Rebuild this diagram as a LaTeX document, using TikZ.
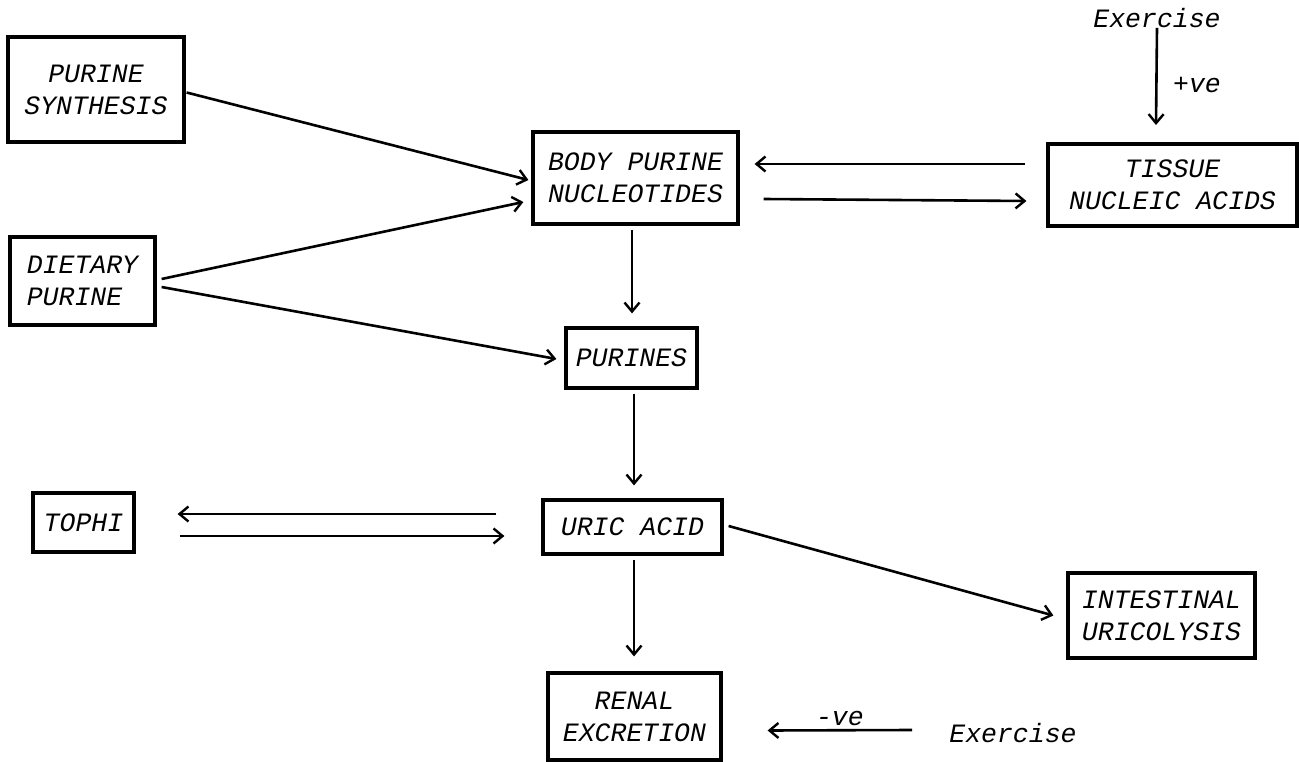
\documentclass[tikz,border=0pt]{standalone}
\usepackage{fontspec}
\newfontfamily\courfam{Liberation Mono}
\usetikzlibrary{arrows.meta,calc}
\tikzset{
  txt/.style={font=\courfam\itshape\fontsize{26.5}{32}\selectfont},
  boxnode/.style={txt,draw,line width=3.2pt,inner sep=0pt,align=center},
  lbl/.style={txt,inner sep=0pt},
  arr/.style={line width=2.6pt,-{Straight Barb[length=9pt,width=15pt,line width=2.4pt]}},
}
\begin{document}
\begin{tikzpicture}[x=1pt,y=-1pt]
\fill[white] (0,0) rectangle (1299,762);
\useasboundingbox (0,0) rectangle (1299,762);

% boxes
\node[boxnode,minimum width=176pt,minimum height=105pt] (psyn) at (96,89.5) {PURINE\\SYNTHESIS};
\node[boxnode,minimum width=145pt,minimum height=88pt,align=left] (diet) at (82.5,281) {DIETARY\\PURINE};
\node[boxnode,minimum width=205pt,minimum height=92pt] (body) at (635.5,178) {BODY PURINE\\NUCLEOTIDES};
\node[boxnode,minimum width=131pt,minimum height=60pt] (purines) at (631.5,358) {PURINES};
\node[boxnode,minimum width=249pt,minimum height=82pt] (tissue) at (1172.5,185) {TISSUE\\NUCLEIC ACIDS};
\node[boxnode,minimum width=101pt,minimum height=59pt] (tophi) at (83.5,522.5) {TOPHI};
\node[boxnode,minimum width=179pt,minimum height=54pt] (uric) at (632.5,527) {URIC ACID};
\node[boxnode,minimum width=187pt,minimum height=85pt] (intest) at (1161.5,615.5) {INTESTINAL\\URICOLYSIS};
\node[boxnode,minimum width=173pt,minimum height=87pt] (renal) at (634.5,716.5) {RENAL\\EXCRETION};

% labels
\node[lbl] (ex1) at (1157,18) {Exercise};
\coordinate (extip) at (1156,125);
\node[lbl] (pve) at (1197,85) {+ve};
\node[lbl] (ex2) at (1013,733) {Exercise};

% connectors
\draw[arr] ($(psyn.east)+(1,3)$) -- ($(body.west)+(-3,2)$);
\draw[arr] ($(diet.east)+(5,-2)$) -- ($(body.west)+(-8,24)$);
\draw[arr] ($(diet.east)+(5,6)$) -- ($(purines.west)+(-8,1)$);
\draw[arr] ($(tissue.west)+(-21,-21)$) -- ($(body.east)+(15,-14)$);
\draw[arr] ($(body.east)+(24,21)$) -- ($(tissue.west)+(-20,16)$);
\draw[arr] (ex1.south) -- (extip);
\draw[arr] ($(body.south)+(-3.5,4)$) -- ($(purines.north)+(0.5,-13)$);
\draw[arr] ($(purines.south)+(2.5,4)$) -- ($(uric.north)+(1.5,-13)$);
\draw[arr] ($(uric.west)+(-45,-13)$) -- ($(tophi.east)+(42,-8.5)$);
\draw[arr] ($(tophi.east)+(44,13.5)$) -- ($(uric.west)+(-37,9)$);
\draw[arr] ($(uric.east)+(5,-1)$) -- ($(intest.west)+(-13,0)$);
\draw[arr] ($(uric.south)+(1.5,4)$) -- ($(renal.north)+(-0.5,-15)$);
\draw[arr] ($(ex2.west)+(-37,-3)$) -- node[lbl,above=3pt] (mve) {-ve} ($(renal.east)+(45,14)$);
\end{tikzpicture}
\end{document}
